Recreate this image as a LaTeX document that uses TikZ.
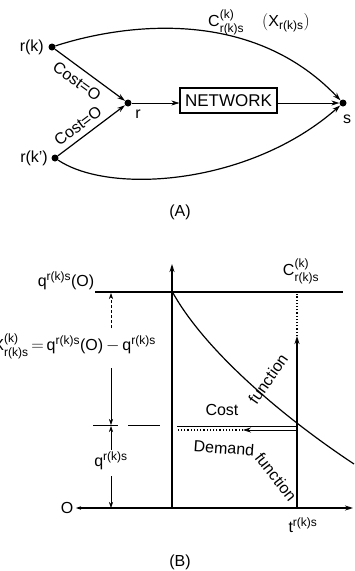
\documentclass[tikz,border=0pt]{standalone}
\usepackage{fontspec}
\setmainfont{Liberation Sans}
\usepackage{amsmath}
\DeclareMathSizes{16}{16}{12}{9}
\usetikzlibrary{arrows.meta}
\begin{document}
\begin{tikzpicture}[x=1pt,y=-1pt,
  every node/.style={font=\fontsize{16}{18}\selectfont, inner sep=1pt},
  dot/.style={circle,fill,inner sep=0pt,minimum size=7pt},
  arr/.style={-{Stealth[length=8pt,width=5pt]}},
  sarr/.style={-{Stealth[length=6pt,width=4pt]}},
  thickline/.style={line width=1.2pt},
  thinline/.style={line width=0.6pt}]
\useasboundingbox (0,0) rectangle (354,571);
% ---------- (A) ----------
\node[dot] (rk) at (52,47) {};
\node[dot] (rkp) at (55,158) {};
\node[dot] (r) at (128,103) {};
\node[dot] (s) at (343,103) {};
\node[draw, thickline, minimum width=97pt, minimum height=25pt, inner sep=0pt,
      font=\fontsize{17}{19}\selectfont] (net) at (228.5,100.5) {NETWORK};
\node[anchor=east] (lrk) at (45,47) {r(k)};
\node[anchor=east] (lrkp) at (49,158) {r(k')};
\node (lr) at (138,114) {r};
\node (ls) at (347,119) {s};
\draw[thickline, arr] (rk) -- (r);
\draw[thickline, arr] (rkp) -- (r);
\draw[thinline, arr] (r) -- (r -| net.west);
\draw[thinline, arr] (r -| net.east) -- (s);
\draw[thickline, arr] (rk) .. controls (120,25) and (250,5) .. (s);
\draw[thickline, arr] (rkp) .. controls (110,195) and (250,185) .. (s);
\node[rotate=-36] (c1) at (77,81) {Cost=O};
\node[rotate=37] (c2) at (78,126) {Cost=O};
\node[anchor=west] (ctop) at (207,22) {$\text{C}^{\text{(k)}}_{\text{r(k)s}}\hspace{18pt}(\text{X}_{\text{r(k)s}})$};
\node (capA) at (180,212) {(A)};
% ---------- (B) ----------
\draw[thickline, arr] (172,508) -- (172,264);
\draw[thickline] (95,292) -- (343,292);
\draw[thickline, {Stealth[length=5pt,width=3.5pt]}-{Stealth[length=8pt,width=5pt]}] (76,508) -- (353,508);
\draw[thickline] (173,293) .. controls (205,350) and (280,415) .. (354,464);
\draw[thickline, arr] (297,508) -- (297,336);
\draw[thickline, dotted] (297,336) -- (297,294);
\draw[thinline] (177,426) -- (297,426);
\draw[thinline, arr] (297,430) -- (243,430);
\draw[thickline, dotted] (243,430) -- (178,430);
% dimension lines
\draw[thinline, densely dashed, sarr] (111,328) -- (111,293);
\draw[thinline, sarr] (111,368) -- (111,425);
\draw[thinline, sarr] (111,450) -- (111,426);
\draw[thinline, sarr] (111,476) -- (111,508);
\draw[thinline] (93,425) -- (118,425) (128,425) -- (160,425);
% labels
\node (q0) at (66,281) {$\text{q}^{\text{r(k)s}}\text{(O)}$};
\node[anchor=east] (xk) at (157,346) {$\text{X}^{\text{(k)}}_{\text{r(k)s}}\,{=}\,\text{q}^{\text{r(k)s}}\text{(O)}\,{-}\,\text{q}^{\text{r(k)s}}$};
\node (q) at (111,461) {$\text{q}^{\text{r(k)s}}$};
\node (o) at (67,508) {O};
\node (t) at (303,525) {$\text{t}^{\text{r(k)s}}$};
\node (cb) at (301,271) {$\text{C}^{\text{(k)}}_{\text{r(k)s}}$};
\node (cost) at (222,410) {Cost};
\node[rotate=55] (fn1) at (268,379) {function};
\node[rotate=-4] (dem) at (224,448) {Demand};
\node[rotate=-52] (fn2) at (276,477) {function};
\node (capB) at (180,562) {(B)};
\end{tikzpicture}
\end{document}
